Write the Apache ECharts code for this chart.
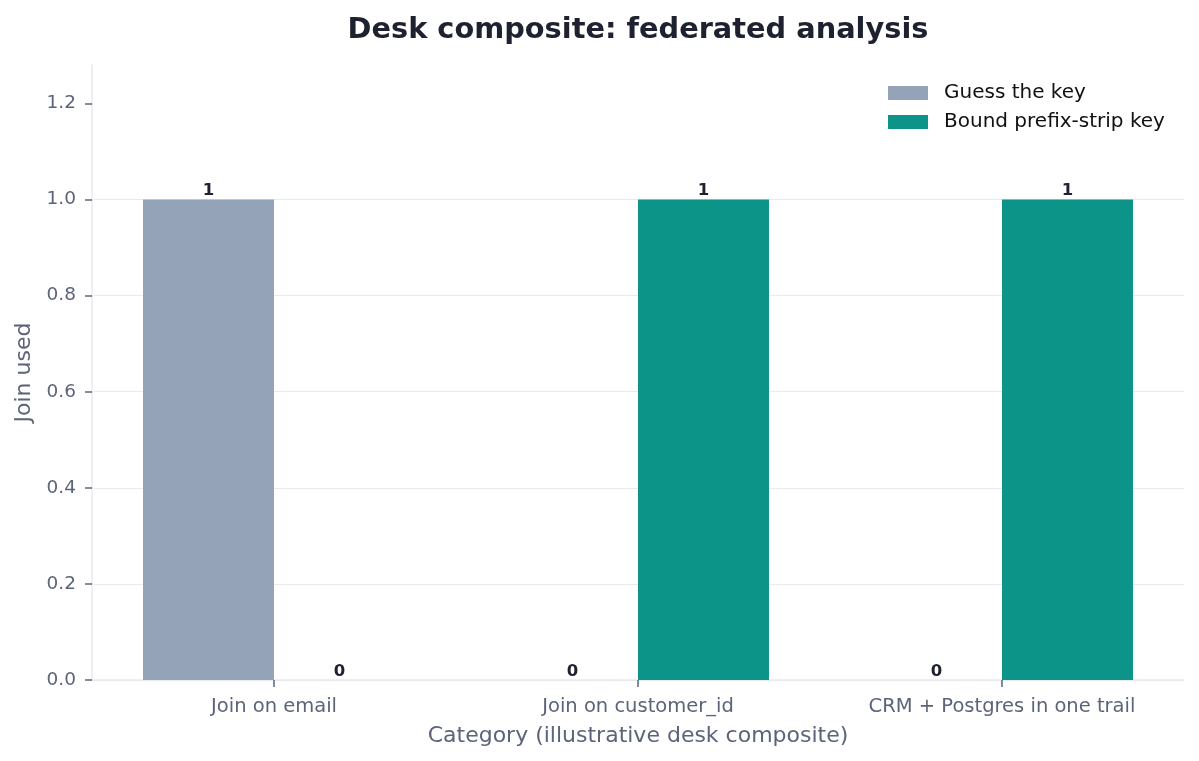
<!DOCTYPE html>
<html>
<head>
<meta charset="utf-8">
<script src="https://cdn.jsdelivr.net/npm/echarts@6/dist/echarts.min.js"></script>
<style>
  html, body { margin: 0; padding: 0; background: #fff; }
  #main { width: 1199px; height: 761px; }
</style>
</head>
<body>
<div id="main"></div>
<script>
const categories = ['Join on email', 'Join on customer_id', 'CRM + Postgres in one trail'];
const guessKey = [1, 0, 0];
const boundKey = [0, 1, 1];
const yTicks = [0, 0.2, 0.4, 0.6, 0.8, 1.0, 1.2];

const font = "'DejaVu Sans', sans-serif";
const tickColor = '#5b6478';
const gridColor = '#e8eaee';

let myChart = echarts.init(document.getElementById('main'));

const barLabel = {
  show: true,
  position: 'top',
  distance: 0,
  fontFamily: font,
  fontWeight: 'bold',
  fontSize: 16.5,
  color: '#1e2230'
};

myChart.setOption({
  animation: false,
  title: {
    text: 'Desk composite: federated analysis',
    left: 633,
    textAlign: 'center',
    top: 11,
    textStyle: { fontFamily: font, fontWeight: 'bold', fontSize: 28.8, color: '#1e2230' }
  },
  legend: {
    orient: 'vertical',
    left: 888,
    top: 83,
    padding: 0,
    itemWidth: 40,
    itemHeight: 14,
    itemGap: 9,
    icon: 'rect',
    textStyle: { fontFamily: font, fontSize: 20, lineHeight: 20, color: '#111', padding: [0, 0, 0, 11] },
    data: ['Guess the key', 'Bound prefix-strip key']
  },
  grid: { left: 92, right: 15, top: 65, bottom: 81 },
  xAxis: {
    type: 'category',
    data: categories,
    name: 'Category (illustrative desk composite)',
    nameLocation: 'middle',
    nameGap: 45,
    nameTextStyle: { fontFamily: font, fontSize: 22, color: tickColor },
    axisLine: { show: true, lineStyle: { color: gridColor, width: 1.5 } },
    axisTick: { show: true, alignWithLabel: true, length: 7, lineStyle: { color: tickColor, width: 1.5 } },
    axisLabel: { fontFamily: font, fontSize: 19.5, color: tickColor, margin: 17 },
    splitLine: { show: false }
  },
  yAxis: {
    type: 'value',
    min: 0,
    max: 1.28,
    interval: 0.2,
    name: 'Join used',
    nameLocation: 'middle',
    nameGap: 57,
    nameTextStyle: { fontFamily: font, fontSize: 22, color: tickColor },
    axisLine: { show: true, lineStyle: { color: gridColor, width: 1.5 } },
    axisTick: { show: true, length: 7, customValues: yTicks, lineStyle: { color: tickColor, width: 1.5 } },
    axisLabel: {
      fontFamily: font, fontSize: 18.5, color: tickColor, margin: 16,
      customValues: yTicks,
      formatter: function (v) { return v.toFixed(1); }
    },
    splitLine: { show: true, showMaxLine: false, lineStyle: { color: gridColor, width: 1.2 } }
  },
  series: [
    {
      name: 'Guess the key',
      type: 'bar',
      data: guessKey,
      barWidth: 131,
      barGap: '0%',
      itemStyle: { color: '#94a3b8' },
      label: barLabel
    },
    {
      name: 'Bound prefix-strip key',
      type: 'bar',
      data: boundKey,
      barWidth: 131,
      barGap: '0%',
      itemStyle: { color: '#0d9488' },
      label: barLabel
    }
  ]
});
</script>
</body>
</html>
